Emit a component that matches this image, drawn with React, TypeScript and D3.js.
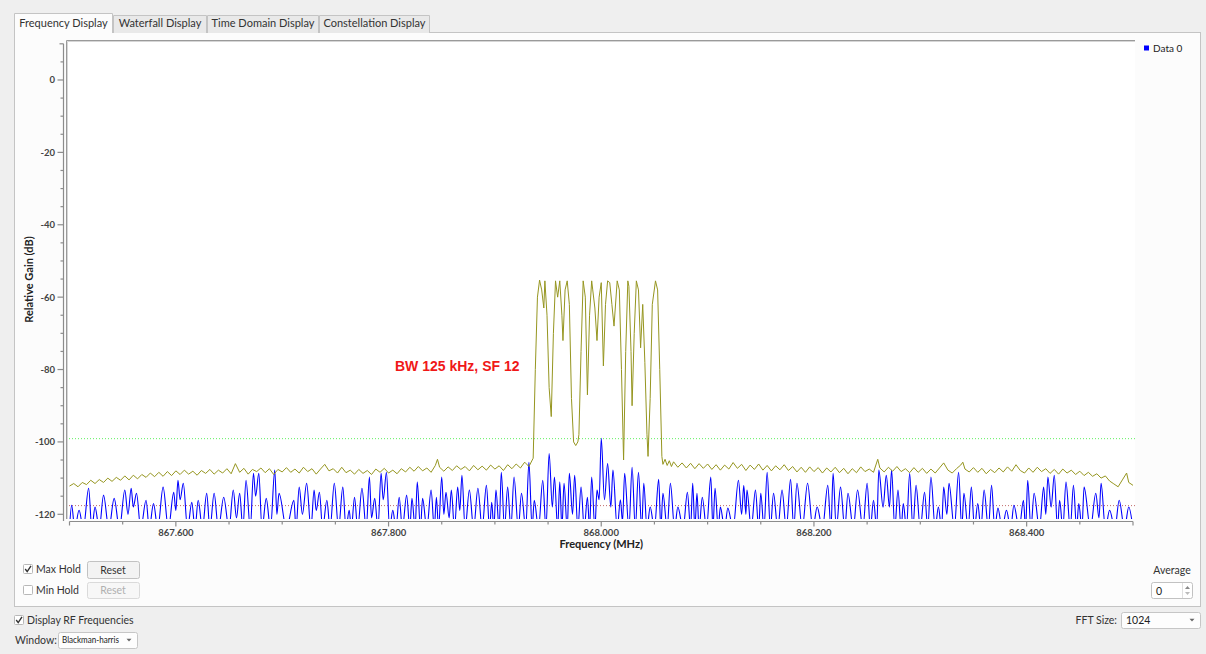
import React, { useEffect, useRef } from 'react';
import * as d3 from 'd3';

// frequency offsets are kHz above 867.500 MHz, values in dB
const startMHz = 867.5;

const dataTrace: [number, number][] = [
  [0, -124], [2, -117.5], [5, -124], [9, -118.9], [13, -124], [18, -112.8], [21, -124], [24, -118], [28, -124], [32, -114.7],
  [37, -124], [42, -115.6], [47, -124], [52, -113.3], [55, -120], [58, -112.8], [60, -118], [63, -114.2], [67, -124], [72, -116.1],
  [75, -124], [79, -117], [83, -124], [88, -112.5], [93, -124], [98, -113.9], [100, -119], [102, -110.6], [104, -116], [107, -111.4],
  [111, -124], [115, -116.7], [118, -124], [121, -116.1], [125, -124], [129, -114.2], [132, -124], [136, -114.2], [140, -124], [145, -115.3],
  [150, -124], [154, -113.3], [157, -121], [160, -114.2], [163, -124], [166, -110.6], [170, -124], [173, -108.7], [175, -115], [178, -108.7],
  [181, -124], [185, -115.6], [189, -124], [193, -107.8], [195, -120], [197, -114.2], [204, -124], [211, -116.1], [213, -124], [216, -112.5],
  [219, -120], [223, -111.4], [227, -124], [230, -113.3], [232, -119], [235, -113.9], [238, -124], [242, -116.1], [245, -124], [249, -111.4],
  [253, -124], [257, -112.5], [260, -124], [263, -118.9], [265, -124], [268, -115.3], [271, -124], [275, -112.8], [279, -124], [282, -109.7],
  [284, -121], [287, -115.6], [290, -124], [293, -108.7], [295, -116], [298, -108.4], [301, -124], [304, -118.9], [307, -124], [310, -115.3],
  [313, -124], [317, -114.7], [320, -124], [322, -115.6], [325, -124], [327, -111.1], [330, -124], [332, -115.6], [336, -124], [340, -113.3],
  [343, -124], [345, -115.3], [347, -124], [350, -109.7], [352, -120], [354, -113.9], [357, -121], [359, -113.3], [362, -124], [365, -112.5],
  [367, -119], [369, -109.2], [372, -124], [376, -113.3], [380, -124], [384, -112.8], [388, -124], [392, -112], [395, -124], [397, -116.7],
  [399, -124], [401, -113.3], [404, -124], [406, -108.4], [409, -124], [412, -112.5], [415, -124], [418, -109.7], [422, -124], [425, -114.2],
  [429, -124], [432, -105.6], [435, -124], [437, -116.1], [441, -124], [445, -110.6], [448, -124], [451, -103.2], [454, -118], [456, -109.7],
  [459, -124], [461, -111.1], [463, -124], [465, -111.4], [468, -124], [470, -108.7], [473, -120], [475, -109.2], [478, -124], [481, -112.5],
  [484, -124], [487, -115.3], [489, -124], [491, -109.7], [494, -124], [496, -113.3], [498, -116], [500, -99], [503, -116], [506, -106],
  [509, -118], [511, -107.8], [515, -124], [518, -116], [520, -122], [522, -108.7], [526, -124], [529, -107], [532, -124], [535, -108.4],
  [538, -124], [540, -111.4], [543, -124], [546, -118], [550, -124], [554, -110.3], [556, -124], [558, -114.2], [562, -124], [565, -111.4],
  [569, -124], [572, -118], [577, -124], [581, -113.9], [584, -124], [586, -111.4], [588, -124], [590, -114.2], [592, -124], [595, -115.3],
  [599, -124], [603, -109.7], [605, -124], [607, -112.8], [610, -124], [612, -118], [616, -124], [619, -118.3], [624, -124], [629, -110.6],
  [632, -120], [634, -112], [636, -120], [637, -113.3], [641, -124], [645, -113.3], [648, -124], [650, -114.2], [653, -124], [656, -108.4],
  [659, -124], [662, -114.2], [666, -124], [670, -113.3], [674, -124], [678, -110.3], [681, -124], [684, -111.4], [689, -124], [694, -111.4],
  [699, -124], [703, -118], [708, -124], [713, -112], [716, -124], [718, -108.7], [721, -124], [725, -112.5], [729, -124], [732, -114.2],
  [737, -124], [741, -113.3], [746, -124], [750, -111.4], [753, -124], [756, -116.1], [759, -124], [761, -107.8], [765, -118], [768, -109.2],
  [771, -118], [773, -107.8], [776, -124], [779, -113.3], [782, -124], [784, -117], [787, -124], [790, -108.7], [793, -124], [796, -112],
  [800, -124], [804, -113.9], [807, -124], [810, -109.7], [814, -124], [817, -118], [820, -124], [822, -112.5], [825, -120], [827, -111.4],
  [832, -124], [836, -108.4], [839, -124], [841, -114.2], [845, -124], [848, -112.5], [851, -124], [854, -117], [857, -124], [860, -113.3],
  [864, -124], [867, -112], [870, -124], [873, -118.3], [877, -124], [881, -118.9], [885, -124], [888, -117.5], [893, -124], [897, -116.1],
  [899, -124], [901, -110.6], [904, -124], [907, -114.2], [912, -124], [916, -112.5], [918, -120], [920, -109.7], [923, -118], [926, -109.2],
  [929, -124], [931, -116.1], [934, -124], [937, -111.1], [941, -124], [944, -112], [947, -124], [949, -117], [952, -124], [954, -112.5],
  [960, -124], [965, -114.2], [968, -121], [970, -111.4], [974, -124], [978, -118.9], [983, -124], [987, -116.1], [992, -124], [996, -118],
  [1000, -124],
];

const maxHoldTrace: [number, number][] = [
  [0, -112.2], [4, -111.5], [8, -112.4], [12, -111.2], [16, -111.8], [20, -110.6], [24, -111.5], [28, -110.4], [32, -111.2], [36, -110.0],
  [40, -110.9], [44, -109.8], [48, -110.6], [52, -109.4], [56, -110.5], [60, -109.2], [64, -110.2], [68, -109.0], [72, -109.8], [76, -108.6],
  [80, -109.6], [84, -108.4], [88, -109.5], [92, -108.2], [96, -109.3], [100, -108.0], [104, -109.0], [108, -107.8], [112, -108.9], [116, -108.1],
  [120, -109.2], [124, -107.9], [128, -108.7], [132, -107.6], [136, -108.9], [140, -107.8], [144, -108.6], [148, -107.4], [152, -108.8], [156, -106.0],
  [160, -108.4], [164, -107.3], [168, -108.9], [172, -107.6], [176, -108.2], [180, -107.2], [184, -108.5], [188, -107.4], [192, -109.0], [196, -107.6],
  [200, -108.3], [204, -107.1], [208, -108.4], [212, -107.5], [216, -108.6], [220, -107.0], [224, -108.2], [228, -107.4], [232, -108.9], [236, -107.5],
  [240, -106.2], [244, -108.0], [248, -107.4], [252, -108.6], [256, -107.0], [260, -108.5], [264, -107.8], [268, -108.9], [272, -107.6], [276, -108.7],
  [280, -107.9], [284, -109.0], [288, -107.5], [292, -108.4], [296, -107.3], [300, -108.6], [304, -107.8], [308, -108.8], [312, -107.4], [316, -108.3],
  [320, -107.0], [324, -108.1], [328, -106.8], [332, -108.0], [336, -107.2], [340, -108.4], [344, -106.5], [346, -104.8], [348, -107.0], [352, -108.1],
  [356, -106.9], [360, -107.9], [364, -106.6], [368, -107.6], [372, -106.8], [376, -108.0], [380, -106.5], [384, -107.7], [388, -106.7], [392, -107.8],
  [396, -106.4], [400, -107.5], [404, -106.6], [408, -107.9], [412, -106.3], [416, -107.4], [420, -106.1], [424, -107.2], [428, -105.6], [432, -106.8],
  [436, -104.5], [438, -80], [440, -60], [442, -55.3], [444, -58], [446, -63], [447, -55.5], [449, -65], [451, -85], [453, -93],
  [455, -70], [457, -55.5], [459, -60], [461, -55.5], [463, -65], [464, -72], [466, -58], [468, -55.5], [470, -62], [472, -88],
  [474, -100], [476, -101], [478, -100], [479, -98], [481, -75], [483, -55.5], [485, -60], [487, -87], [489, -65], [491, -55.5],
  [492, -58], [494, -63], [496, -72], [498, -60], [500, -56], [502, -79], [504, -62], [506, -55.5], [508, -56], [510, -62],
  [512, -68], [515, -55.5], [517, -58], [519, -80], [521, -105], [523, -75], [525, -55.5], [526, -57], [528, -75], [529, -90],
  [531, -70], [533, -55.5], [535, -58], [537, -74], [539, -62], [541, -78], [543, -98], [544, -104], [546, -88], [548, -62],
  [551, -55.5], [553, -58], [555, -80], [557, -104], [558, -106.2], [560, -104.8], [562, -106.5], [564, -105.2], [566, -106.8], [568, -105.5],
  [572, -107.0], [576, -105.8], [580, -107.2], [584, -105.9], [588, -107.4], [592, -106.0], [596, -107.3], [600, -106.1], [604, -107.6], [608, -106.3],
  [612, -107.8], [616, -106.4], [620, -107.5], [624, -105.7], [628, -107.3], [632, -106.2], [636, -107.9], [640, -106.4], [644, -107.6], [648, -106.1],
  [652, -107.8], [656, -106.5], [660, -108.0], [664, -106.6], [668, -107.7], [672, -106.3], [676, -107.9], [680, -106.8], [684, -108.3], [688, -107.0],
  [692, -108.4], [696, -106.9], [700, -108.2], [704, -107.1], [708, -108.6], [712, -107.2], [716, -108.3], [720, -107.0], [724, -108.5], [728, -107.3],
  [732, -108.8], [736, -107.4], [740, -108.5], [744, -106.9], [748, -108.2], [752, -107.5], [756, -108.4], [760, -104.8], [762, -107.2], [766, -108.3],
  [770, -107.0], [774, -108.1], [778, -106.8], [782, -108.2], [786, -107.4], [790, -108.5], [794, -107.1], [798, -108.4], [802, -107.3], [806, -108.7],
  [810, -107.5], [814, -108.6], [818, -107.2], [822, -105.8], [826, -107.8], [830, -108.6], [834, -107.4], [838, -106.4], [840, -105.6], [842, -107.5],
  [846, -108.3], [850, -107.1], [854, -108.4], [858, -107.3], [862, -108.8], [866, -107.6], [870, -108.5], [874, -107.2], [878, -108.3], [882, -106.9],
  [886, -108.1], [890, -106.3], [894, -107.9], [898, -108.6], [902, -107.2], [906, -108.4], [910, -107.0], [914, -108.2], [918, -107.4], [922, -108.7],
  [926, -107.6], [930, -108.9], [934, -107.5], [938, -108.6], [942, -107.8], [946, -109.0], [950, -108.1], [954, -109.3], [958, -108.4], [962, -109.5],
  [966, -108.8], [970, -110.0], [974, -109.4], [978, -110.8], [982, -111.6], [986, -112.4], [990, -110.5], [994, -108.6], [996, -111.2], [1000, -112.0],
];

const yLabelTicks = [-120, -100, -80, -60, -40, -20, 0];
const xLabelTicks = [867.6, 867.8, 868.0, 868.2, 868.4];
const upperMarkerDb = -99.1;
const lowerMarkerDb = -117.6;
const tabLabels = ['Frequency Display', 'Waterfall Display', 'Time Domain Display', 'Constellation Display'];
const annotationText = 'BW 125 kHz, SF 12';
const legendLabel = 'Data 0';

const FONT = 'Lato, "Noto Sans", sans-serif';

const App: React.FC = () => {
  const svgRef = useRef<SVGSVGElement>(null);

  useEffect(() => {
    if (!svgRef.current) return;
    const width = 1206;
    const height = 654;
    const svg = d3.select(svgRef.current);
    svg.selectAll('*').remove();
    svg.attr('width', width).attr('height', height).style('font-family', FONT);

    // window background + tab pane
    svg.append('rect').attr('width', width).attr('height', height).attr('fill', '#efefef');
    svg.append('rect')
      .attr('x', 14.5).attr('y', 32.5).attr('width', 1186).attr('height', 574)
      .attr('fill', '#fcfcfc').attr('stroke', '#c4c4c4');

    // tabs
    const tabEdges = [14, 113, 207, 319, 430];
    tabLabels.forEach((label, i) => {
      const active = i === 0;
      const x0 = tabEdges[i];
      const x1 = tabEdges[i + 1];
      const top = active ? 13 : 15;
      svg.append('path')
        .attr('d', `M${x0 + 0.5},33 V${top + 0.5} H${x1 - 0.5} V33`)
        .attr('fill', active ? '#fcfcfc' : '#e9e9e9')
        .attr('stroke', '#c4c4c4');
      if (active) {
        svg.append('rect').attr('x', x0 + 1).attr('y', 32).attr('width', x1 - x0 - 2).attr('height', 2).attr('fill', '#fcfcfc');
      }
      svg.append('text')
        .attr('x', (x0 + x1) / 2).attr('y', 27)
        .attr('text-anchor', 'middle').attr('font-size', '11px').attr('fill', '#333')
        .text(label);
    });

    // plot geometry
    const canvas = { left: 66, top: 40, right: 1135, bottom: 519 };
    const xScale = d3.scaleLinear().domain([867.5, 868.5]).range([69.5, 1133]);
    const yScale = d3.scaleLinear().domain([-120, 10]).range([514.3, 43.8]);

    svg.append('rect')
      .attr('x', canvas.left).attr('y', canvas.top)
      .attr('width', canvas.right - canvas.left).attr('height', canvas.bottom - canvas.top)
      .attr('fill', '#ffffff');
    svg.append('path')
      .attr('d', `M${canvas.left + 0.5},${canvas.bottom} V${canvas.top + 0.5} H${canvas.right}`)
      .attr('fill', 'none').attr('stroke', '#9a9a9a');
    svg.append('path')
      .attr('d', `M${canvas.left + 1.5},${canvas.bottom} V${canvas.top + 1.5} H${canvas.right}`)
      .attr('fill', 'none').attr('stroke', '#d6d6d6');

    const defs = svg.append('defs');
    defs.append('clipPath').attr('id', 'canvas-clip')
      .append('rect')
      .attr('x', canvas.left + 1).attr('y', canvas.top + 1)
      .attr('width', canvas.right - canvas.left - 1).attr('height', canvas.bottom - canvas.top - 1);

    const plot = svg.append('g').attr('clip-path', 'url(#canvas-clip)');

    // marker lines
    plot.append('line')
      .attr('x1', canvas.left).attr('x2', canvas.right)
      .attr('y1', yScale(upperMarkerDb)).attr('y2', yScale(upperMarkerDb))
      .attr('stroke', '#5ef05e').attr('stroke-width', 1).attr('stroke-dasharray', '1,2');
    plot.append('line')
      .attr('x1', canvas.left).attr('x2', canvas.right)
      .attr('y1', yScale(lowerMarkerDb)).attr('y2', yScale(lowerMarkerDb))
      .attr('stroke', '#c06a6a').attr('stroke-width', 1).attr('stroke-dasharray', '1,2');

    const line = d3.line<[number, number]>()
      .x((d) => xScale(startMHz + d[0] / 1000))
      .y((d) => yScale(d[1]));

    plot.append('path')
      .datum(dataTrace)
      .attr('d', line.curve(d3.curveMonotoneX))
      .attr('fill', 'none').attr('stroke', '#0000ff').attr('stroke-width', 1.1);

    plot.append('path')
      .datum(maxHoldTrace)
      .attr('d', line.curve(d3.curveLinear))
      .attr('fill', 'none').attr('stroke', '#969620').attr('stroke-width', 1);

    // annotation
    svg.append('text')
      .attr('x', 395).attr('y', 371)
      .attr('font-family', '"Liberation Sans", Arial, sans-serif')
      .attr('font-size', '14px').attr('font-weight', 'bold').attr('fill', '#f01818')
      .text(annotationText);

    // y axis
    const yAxisX = 63.5;
    svg.append('line')
      .attr('x1', yAxisX).attr('x2', yAxisX).attr('y1', yScale(10)).attr('y2', 521)
      .attr('stroke', '#8c8c8c').attr('stroke-width', 1.2);
    d3.range(-120, 11, 5).forEach((v) => {
      const major = v % 20 === 0;
      const len = major ? 6 : v === 10 ? 4 : 3;
      svg.append('line')
        .attr('x1', yAxisX - len).attr('x2', yAxisX)
        .attr('y1', yScale(v)).attr('y2', yScale(v))
        .attr('stroke', '#8c8c8c').attr('stroke-width', 1.2);
    });
    yLabelTicks.forEach((v) => {
      svg.append('text')
        .attr('x', 55).attr('y', yScale(v) + 3.5)
        .attr('text-anchor', 'end').attr('font-size', '9.5px').attr('font-weight', 'bold').attr('fill', '#444')
        .text(v === 0 ? '0' : String(v));
    });
    svg.append('text')
      .attr('transform', `translate(33,${(canvas.top + canvas.bottom) / 2}) rotate(-90)`)
      .attr('text-anchor', 'middle').attr('font-size', '11px').attr('font-weight', 'bold').attr('fill', '#222')
      .text('Relative Gain (dB)');

    // x axis
    const xAxisY = 521.5;
    svg.append('line')
      .attr('x1', xScale(867.5)).attr('x2', xScale(868.5)).attr('y1', xAxisY).attr('y2', xAxisY)
      .attr('stroke', '#8c8c8c').attr('stroke-width', 1.2);
    d3.range(0, 21).forEach((i) => {
      const f = 867.5 + i * 0.05;
      const major = i % 4 === 2;
      const len = major ? 5 : i === 0 || i === 20 ? 4 : 3;
      svg.append('line')
        .attr('x1', xScale(f)).attr('x2', xScale(f))
        .attr('y1', xAxisY).attr('y2', xAxisY + len)
        .attr('stroke', '#8c8c8c').attr('stroke-width', 1.2);
    });
    xLabelTicks.forEach((f) => {
      svg.append('text')
        .attr('x', xScale(f)).attr('y', 535.5)
        .attr('text-anchor', 'middle').attr('font-size', '9.5px').attr('font-weight', 'bold').attr('fill', '#444')
        .text(f.toFixed(3));
    });
    svg.append('text')
      .attr('x', xScale(868.0)).attr('y', 548)
      .attr('text-anchor', 'middle').attr('font-size', '11px').attr('font-weight', 'bold').attr('fill', '#222')
      .text('Frequency (MHz)');

    // legend
    svg.append('rect').attr('x', 1144).attr('y', 45.5).attr('width', 5).attr('height', 5).attr('fill', '#0000ff');
    svg.append('text')
      .attr('x', 1153).attr('y', 51.5).attr('font-size', '10px').attr('fill', '#222')
      .text(legendLabel);

    // widgets
    const checkbox = (x: number, y: number, checked: boolean) => {
      svg.append('rect').attr('x', x + 0.5).attr('y', y + 0.5).attr('width', 9).attr('height', 9).attr('rx', 1)
        .attr('fill', '#ffffff').attr('stroke', '#b8b8b8');
      if (checked) {
        svg.append('path')
          .attr('d', `M${x + 2.2},${y + 5} L${x + 4.2},${y + 7.6} L${x + 8},${y + 1.8}`)
          .attr('fill', 'none').attr('stroke', '#333').attr('stroke-width', 1.4);
      }
    };
    const label = (x: number, y: number, text: string, anchor = 'start', size = 10.5, color = '#333') => {
      return svg.append('text')
        .attr('x', x).attr('y', y).attr('text-anchor', anchor)
        .attr('font-size', `${size}px`).attr('fill', color)
        .text(text);
    };
    const button = (x: number, y: number, w: number, h: number, text: string, enabled: boolean) => {
      svg.append('rect').attr('x', x + 0.5).attr('y', y + 0.5).attr('width', w).attr('height', h).attr('rx', 2)
        .attr('fill', enabled ? '#f3f3f3' : '#f7f7f7').attr('stroke', enabled ? '#c2c2c2' : '#dadada');
      label(x + w / 2, y + h / 2 + 4, text, 'middle', 10.5, enabled ? '#333' : '#b0b0b0');
    };
    const combo = (x: number, y: number, w: number, h: number, text: string, size: number) => {
      svg.append('rect').attr('x', x + 0.5).attr('y', y + 0.5).attr('width', w).attr('height', h).attr('rx', 2)
        .attr('fill', '#fdfdfd').attr('stroke', '#c6c6c6');
      label(x + 5, y + h / 2 + size * 0.36, text, 'start', size, '#222');
      const ax = x + w - 8;
      const ay = y + h / 2;
      svg.append('path').attr('d', `M${ax - 2.5},${ay - 1.2} L${ax + 2.5},${ay - 1.2} L${ax},${ay + 1.5} Z`).attr('fill', '#666');
    };

    checkbox(23, 564, true);
    label(36, 573, 'Max Hold');
    button(87, 561, 52, 17, 'Reset', true);
    checkbox(23, 585, false);
    label(36, 594, 'Min Hold');
    button(87, 582, 52, 16, 'Reset', false);

    label(1172, 574, 'Average', 'middle');
    svg.append('rect').attr('x', 1151.5).attr('y', 582.5).attr('width', 41).attr('height', 16).attr('rx', 2)
      .attr('fill', '#ffffff').attr('stroke', '#c2c2c2');
    svg.append('line').attr('x1', 1182.5).attr('x2', 1182.5).attr('y1', 583).attr('y2', 598).attr('stroke', '#e0e0e0');
    svg.append('path').attr('d', 'M1185,589 L1190,589 L1187.5,586 Z').attr('fill', '#888');
    svg.append('path').attr('d', 'M1185,592 L1190,592 L1187.5,595 Z').attr('fill', '#bbb');
    label(1156, 594.5, '0', 'start', 10.5, '#222');

    checkbox(14, 615, true);
    label(27, 624, 'Display RF Frequencies');
    label(15, 644, 'Window:');
    combo(58, 632, 79, 16, '', 8.5);
    label(62, 643, 'Blackman-harris', 'start', 8.5, '#222')
      .attr('textLength', 57).attr('lengthAdjust', 'spacingAndGlyphs');
    label(1117, 624, 'FFT Size:', 'end');
    combo(1121, 612, 79, 16, '1024', 10.5);
  }, []);

  return (
    <div style={{ position: 'absolute', left: 0, top: 0 }}>
      <svg ref={svgRef} />
    </div>
  );
};

export default App;
